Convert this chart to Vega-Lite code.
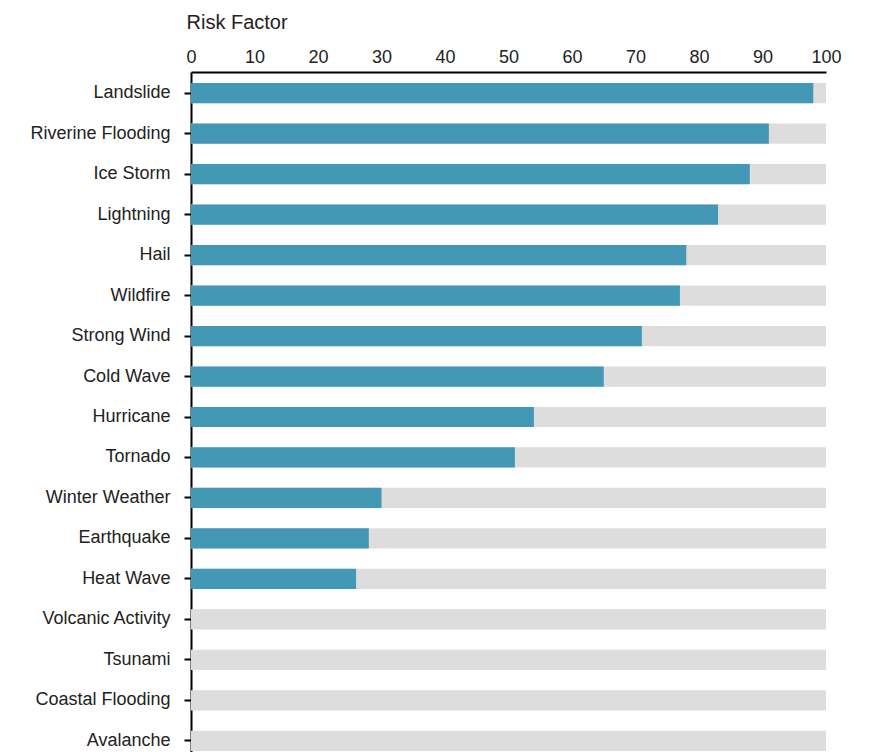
{
  "$schema": "https://vega.github.io/schema/vega-lite/v6.json",
  "autosize": "none",
  "padding": {"left": 191, "top": 72, "right": 47, "bottom": 0},
  "width": 635,
  "height": 690,
  "config": {
    "font": "Liberation Sans",
    "view": {"stroke": null}
  },
  "data": {
    "values": [
      {"hazard": "Landslide", "risk": 98},
      {"hazard": "Riverine Flooding", "risk": 91},
      {"hazard": "Ice Storm", "risk": 88},
      {"hazard": "Lightning", "risk": 83},
      {"hazard": "Hail", "risk": 78},
      {"hazard": "Wildfire", "risk": 77},
      {"hazard": "Strong Wind", "risk": 71},
      {"hazard": "Cold Wave", "risk": 65},
      {"hazard": "Hurricane", "risk": 54},
      {"hazard": "Tornado", "risk": 51},
      {"hazard": "Winter Weather", "risk": 30},
      {"hazard": "Earthquake", "risk": 28},
      {"hazard": "Heat Wave", "risk": 26},
      {"hazard": "Volcanic Activity", "risk": 0},
      {"hazard": "Tsunami", "risk": 0},
      {"hazard": "Coastal Flooding", "risk": 0},
      {"hazard": "Avalanche", "risk": 0}
    ]
  },
  "encoding": {
    "y": {
      "field": "hazard",
      "type": "nominal",
      "sort": ["Landslide","Riverine Flooding","Ice Storm","Lightning","Hail","Wildfire","Strong Wind","Cold Wave","Hurricane","Tornado","Winter Weather","Earthquake","Heat Wave","Volcanic Activity","Tsunami","Coastal Flooding","Avalanche"],
      "scale": {"paddingInner": 0.5, "paddingOuter": 0.27},
      "axis": {
        "title": null,
        "domainColor": "#000",
        "domainWidth": 2,
        "tickColor": "#000",
        "tickWidth": 2,
        "tickSize": 7,
        "labelPadding": 14,
        "labelFontSize": 18,
        "labelColor": "#222"
      }
    }
  },
  "layer": [
    {
      "mark": {"type": "bar", "color": "#dddddd"},
      "encoding": {
        "x": {
          "datum": 100,
          "type": "quantitative",
          "scale": {"domain": [0, 100], "nice": false},
          "axis": {
            "orient": "top",
            "title": "Risk Factor",
            "titleFontSize": 20,
            "titleFontWeight": "normal",
            "titleColor": "#222",
            "titleAnchor": "start",
            "titleAlign": "left",
            "titleBaseline": "middle",
            "titleX": -5,
            "titleY": -50,
            "values": [0,10,20,30,40,50,60,70,80,90,100],
            "ticks": false,
            "grid": false,
            "labelPadding": 6,
            "labelFontSize": 18,
            "labelColor": "#222",
            "labelFlush": false,
            "domainColor": "#000",
            "domainWidth": 2
          }
        }
      }
    },
    {
      "mark": {"type": "bar", "color": "#4398b6"},
      "encoding": {
        "x": {"field": "risk", "type": "quantitative"}
      }
    }
  ]
}
